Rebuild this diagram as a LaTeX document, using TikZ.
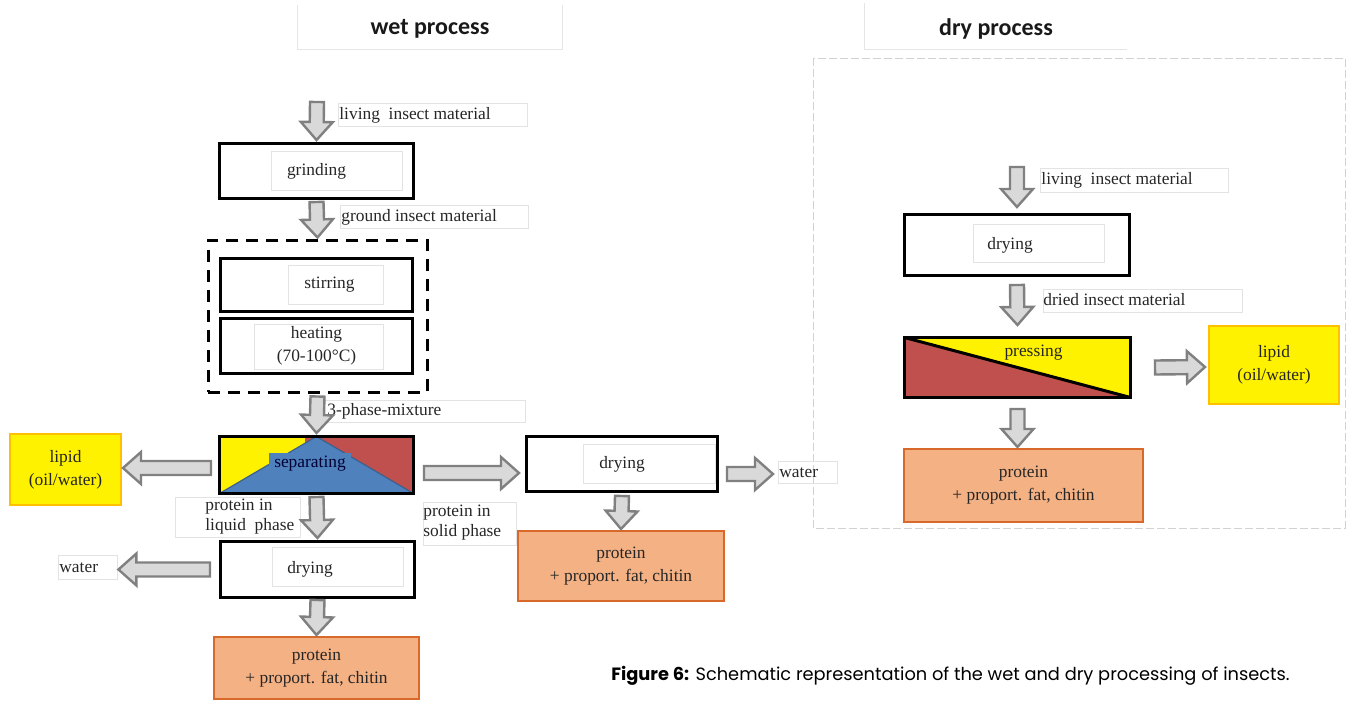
\documentclass[tikz,border=0pt]{standalone}
\usepackage{fontspec}
\setmainfont{Liberation Serif}
\newfontfamily\headfont{Carlito}
\newfontfamily\capfont{Poppins}
\usetikzlibrary{calc}
\definecolor{arrowfill}{HTML}{D9D9D9}
\definecolor{arrowline}{HTML}{808080}
\definecolor{sepred}{HTML}{C0504D}
\definecolor{sepblue}{HTML}{4F81BD}
\definecolor{protfill}{HTML}{F4B183}
\definecolor{protline}{HTML}{D8692A}
\definecolor{lipidline}{HTML}{FFC000}
\newcommand{\boxfont}{\fontsize{8.7}{11.5}\selectfont}
\newcommand{\tagfont}{\fontsize{8.7}{10}\selectfont}
% block arrow from #1 to #2
\newcommand{\flowarrow}[2]{%
    \coordinate (fa-s) at (#1);
    \coordinate (fa-e) at (#2);
    \coordinate (fa-h) at ($(fa-e)!9pt!(fa-s)$);
    \draw[blockarr] ($(fa-s)!3.5pt!90:(fa-e)$) -- ($(fa-h)!3.5pt!90:(fa-e)$) -- ($(fa-h)!8pt!90:(fa-e)$)
        -- (fa-e) -- ($(fa-h)!8pt!-90:(fa-e)$) -- ($(fa-h)!3.5pt!-90:(fa-e)$) -- ($(fa-s)!3.5pt!-90:(fa-e)$) -- cycle;}
\tikzset{
    proc/.style ={draw=black, line width=1.5pt, inner sep=0pt, font=\boxfont, text=black!85, align=center},
    prot/.style ={draw=protline, line width=1pt, fill=protfill, inner sep=0pt, font=\boxfont, text=black!85, align=center},
    lipid/.style ={draw=lipidline, line width=1pt, fill=yellow, inner sep=0pt, font=\boxfont, text=black!85, align=center},
    sepbox/.style ={fill=yellow, path picture={
        \fill[sepred] ([xshift=-6pt]path picture bounding box.north) rectangle (path picture bounding box.south east);
        \filldraw[fill=sepblue, draw=sepblue!75!black, line width=0.6pt] (path picture bounding box.south west)
            -- (path picture bounding box.north) -- (path picture bounding box.south east) -- cycle;}},
    pressbox/.style ={fill=yellow, path picture={
        \fill[sepred] (path picture bounding box.north west) -- (path picture bounding box.south west)
            -- (path picture bounding box.south east) -- cycle;
        \draw[line width=1.5pt] (path picture bounding box.north west) -- (path picture bounding box.south east);}},
    septag/.style ={fill=sepblue, inner xsep=2.5pt, inner ysep=1pt, minimum height=11pt, font=\boxfont, text=black!80!blue},
    tagtext/.style ={anchor=west, inner sep=0pt, font=\tagfont, align=left, text=black!85},
    faint/.style ={draw=gray!22, line width=0.4pt},
    headline/.style ={draw=gray!20, line width=0.5pt},
    head/.style ={font={\headfont\bfseries\fontsize{12}{14}\selectfont}, text=black!90},
    blockarr/.style ={fill=arrowfill, draw=arrowline, line width=1.2pt, line join=miter},
    groupframe/.style ={draw=black, line width=1.5pt, dash pattern=on 6pt off 4pt, inner sep=0pt},
    dryframe/.style ={draw=gray!35, line width=0.4pt, dash pattern=on 4pt off 1.5pt}
}
\begin{document}
\begin{tikzpicture}[x=0.5pt, y=-0.5pt]
    \useasboundingbox (0,0) rectangle (1352,701);
    % headings
    \draw[headline] (297,5) -- (297,50) -- (562,50) -- (562,5);
    \draw[headline] (864,3) -- (864,50) -- (1127,50);
    \node[head] (wethead) at (430,29) {wet process};
    \node[head] (dryhead) at (996,29) {dry process};
    \draw[dryframe] (813,58) rectangle (1345,528);

    % wet process
    \coordinate (wetin) at (317,102);
    \node[proc, minimum width=97pt, minimum height=27.5pt] (grind) at (316.5,171) {grinding};
    \node[groupframe, minimum width=109.5pt, minimum height=76pt] (heatgroup) at (317.5,316) {};
    \node[proc, minimum width=96pt, minimum height=26.5pt] (stir) at (316.5,285) {\hspace*{13pt}stirring};
    \node[proc, minimum width=96pt, minimum height=27.5pt] (heat) at (316.5,346) {heating\\(70-100°C)};
    \node[proc, sepbox, minimum width=97pt, minimum height=28.5pt] (sep) at (316.5,465) {};
    \node[septag] (septext) at (310,464) {separating};
    \node[lipid, minimum width=55.5pt, minimum height=35.5pt] (lipid1) at (65.5,469.5) {lipid\\(oil/water)};
    \node[proc, minimum width=97pt, minimum height=28pt] (dry1) at (317.5,569.5) {drying\hspace*{7.5pt}};
    \node[prot, minimum width=102.5pt, minimum height=31pt] (prot1) at (316.5,668) {protein\\+ proport. fat, chitin};
    \node[proc, minimum width=95.5pt, minimum height=27.5pt] (dry2) at (622,464) {drying};
    \node[prot, minimum width=103pt, minimum height=35pt] (prot2) at (621,566) {protein\\+ proport. fat, chitin};

    % dry process
    \coordinate (dryin) at (1017,167);
    \node[proc, minimum width=112.5pt, minimum height=30.5pt] (dry3) at (1017,245) {drying\hspace*{7pt}};
    \node[proc, pressbox, minimum width=113pt, minimum height=30pt] (press) at (1017.5,367.5) {};
    \node[font=\boxfont, text=black!85, inner sep=0pt] (presstext) at ($(press.center)+(16,-15)$) {pressing};
    \node[lipid, minimum width=65pt, minimum height=39pt] (lipid2) at (1274,365) {lipid\\(oil/water)};
    \node[prot, minimum width=119.5pt, minimum height=36.5pt] (prot3) at (1023.5,485.5) {protein\\+ proport. fat, chitin};

    % faint text frames
    \foreach \xa/\ya/\xb/\yb in {338/103/527/126, 340/205/528/228, 320/400/525/422, 175/497/300/537,
        423/502/516/545, 58/555/117/579, 778/461/837/483, 271/151/402/190, 288/265/383/304,
        254/324/383/369, 272/547/403/586, 583/444/715/483, 1040/168/1228/192, 1043/289/1242/312,
        973/224/1104/262}
        \draw[faint] (\xa,\ya) rectangle (\xb,\yb);

    % stream labels
    \node[tagtext] (wetlive) at (339,115) {living~ insect material};
    \node[tagtext] (ground) at (341,217) {ground insect material};
    \node[tagtext] (mixture) at (327,411) {3-phase-mixture};
    \node[tagtext] (liquid) at (205,517) {protein in\\liquid~ phase};
    \node[tagtext] (solid) at (423,523) {protein in\\solid phase};
    \node[tagtext] (water1) at (59,568) {water};
    \node[tagtext] (water2) at (779,473) {water};
    \node[tagtext] (drylive) at (1041,180) {living~ insect material};
    \node[tagtext] (dried) at (1043,300) {dried insect material};

    % arrows
    \flowarrow{wetin}{$(grind.north)+(0,-2)$}
    \flowarrow{$(grind.south)+(0,2)$}{$(heatgroup.north)+(0,-1)$}
    \flowarrow{$(heatgroup.south)+(0,3)$}{$(sep.north)+(0,-2)$}
    \flowarrow{$(sep.west)+(-7,3)$}{$(lipid1.east)+(1,-1.5)$}
    \flowarrow{$(sep.east)+(9,8)$}{$(dry2.west)+(-6,9)$}
    \flowarrow{$(dry2.east)+(8,10)$}{$(water2.west)+(-6,1)$}
    \flowarrow{$(dry2.south)+(0,3)$}{$(prot2.north)+(0,-1)$}
    \flowarrow{$(sep.south)+(0,2)$}{$(dry1.north)+(0,-2)$}
    \flowarrow{$(dry1.west)+(-9,0)$}{$(water1.east)+(20,1.5)$}
    \flowarrow{$(dry1.south)+(0,1)$}{$(prot1.north)+(0,-1)$}
    \flowarrow{dryin}{$(dry3.north)+(0,-6)$}
    \flowarrow{$(dry3.south)+(0,8)$}{$(press.north)+(0,-11)$}
    \flowarrow{$(press.east)+(23,0)$}{$(lipid2.west)+(-3,2)$}
    \flowarrow{$(press.south)+(0,10)$}{$(press.south |- prot3.north)+(0,-1)$}

    % caption
    \node[anchor=west, inner sep=0pt, font={\capfont\fontsize{8.9}{11}\selectfont}] (caption) at (611,676)
        {\textbf{Figure 6:} Schematic representation of the wet and dry processing of insects.};
\end{tikzpicture}
\end{document}
